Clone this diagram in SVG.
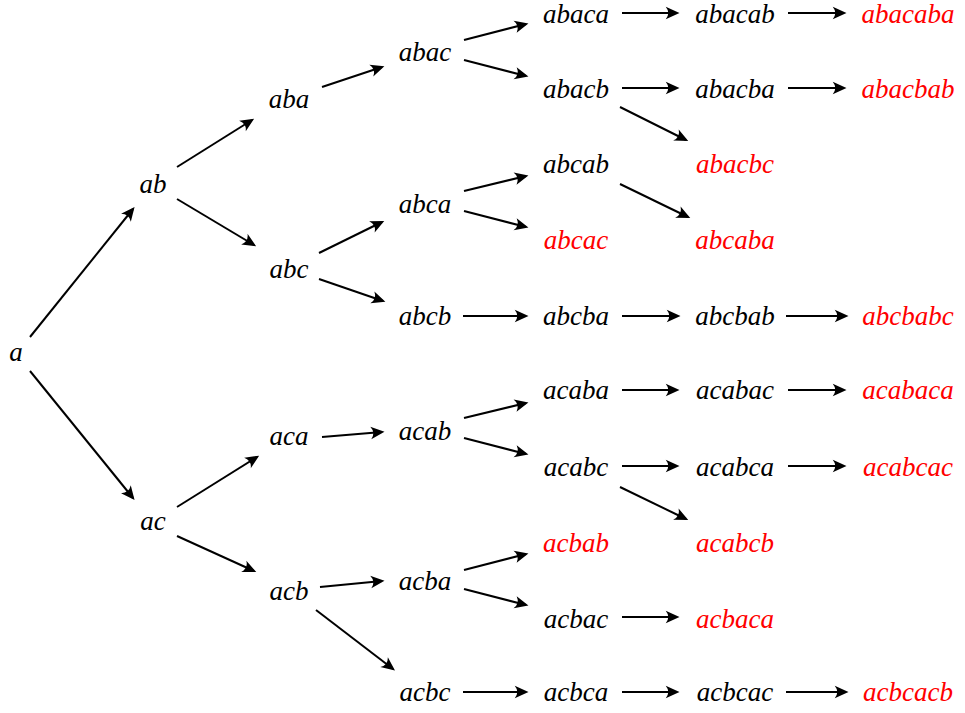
<svg xmlns="http://www.w3.org/2000/svg" width="965" height="713" viewBox="0 0 965 713">
<defs>
<marker id="ah" markerUnits="userSpaceOnUse" orient="auto" refX="0" refY="0" markerWidth="20" markerHeight="20" viewBox="-12 -8 16 16" overflow="visible">
<path d="M2,0 L-9,-5 Q-5,0 -9,5 Z" fill="#000"/>
</marker>
<style>
text{font-family:"Liberation Serif","Times New Roman",serif;font-style:italic;font-size:27px;text-anchor:middle;fill:#000}
text.r{fill:#ff0000}
#edges line{stroke:#000;stroke-width:2;marker-end:url(#ah)}
</style>
</defs>
<rect width="965" height="713" fill="#fff"/>
<g id="edges">
<line x1="30" y1="337" x2="133" y2="209"/>
<line x1="30" y1="371" x2="133" y2="498"/>
<line x1="177" y1="167" x2="252" y2="120"/>
<line x1="177" y1="199" x2="254" y2="245"/>
<line x1="177" y1="507" x2="257" y2="457"/>
<line x1="177" y1="536" x2="254" y2="571"/>
<line x1="322" y1="87" x2="382" y2="67"/>
<line x1="319" y1="253" x2="382" y2="222"/>
<line x1="319" y1="279" x2="383" y2="301"/>
<line x1="322" y1="437" x2="382" y2="432"/>
<line x1="320" y1="587" x2="382" y2="581"/>
<line x1="316" y1="610" x2="393" y2="669"/>
<line x1="464" y1="40" x2="526" y2="24"/>
<line x1="464" y1="60" x2="526" y2="76"/>
<line x1="464" y1="191" x2="526" y2="176"/>
<line x1="464" y1="211" x2="526" y2="227"/>
<line x1="463" y1="316" x2="526" y2="316"/>
<line x1="464" y1="418" x2="526" y2="403"/>
<line x1="464" y1="438" x2="526" y2="454"/>
<line x1="464" y1="570" x2="526" y2="554"/>
<line x1="464" y1="589" x2="526" y2="605"/>
<line x1="463" y1="692" x2="526" y2="692"/>
<line x1="622" y1="13" x2="677" y2="13"/>
<line x1="788" y1="13" x2="844" y2="13"/>
<line x1="622" y1="88" x2="677" y2="88"/>
<line x1="620" y1="107" x2="686" y2="140"/>
<line x1="788" y1="88" x2="844" y2="88"/>
<line x1="620" y1="184" x2="688" y2="217"/>
<line x1="622" y1="316" x2="678" y2="316"/>
<line x1="786" y1="316" x2="846" y2="316"/>
<line x1="622" y1="390" x2="677" y2="390"/>
<line x1="788" y1="390" x2="844" y2="390"/>
<line x1="622" y1="466" x2="677" y2="466"/>
<line x1="620" y1="487" x2="686" y2="519"/>
<line x1="788" y1="466" x2="844" y2="466"/>
<line x1="622" y1="617" x2="677" y2="617"/>
<line x1="622" y1="692" x2="677" y2="692"/>
<line x1="786" y1="692" x2="846" y2="692"/>
</g>
<g id="n-a"><text x="16" y="361">a</text></g>
<g id="n-ab"><text x="153" y="193">ab</text></g>
<g id="n-ac"><text x="153" y="530">ac</text></g>
<g id="n-aba"><text x="289" y="108">aba</text></g>
<g id="n-abc"><text x="289" y="278">abc</text></g>
<g id="n-aca"><text x="289" y="445">aca</text></g>
<g id="n-acb"><text x="289" y="600">acb</text></g>
<g id="n-abac"><text x="425" y="61">abac</text></g>
<g id="n-abca"><text x="425" y="213">abca</text></g>
<g id="n-abcb"><text x="425" y="325">abcb</text></g>
<g id="n-acab"><text x="425" y="440">acab</text></g>
<g id="n-acba"><text x="425" y="590">acba</text></g>
<g id="n-acbc"><text x="425" y="701">acbc</text></g>
<g id="n-abaca"><text x="576" y="23">abaca</text></g>
<g id="n-abacb"><text x="576" y="98">abacb</text></g>
<g id="n-abcab"><text x="576" y="173">abcab</text></g>
<g id="n-abcac"><text class="r" x="576" y="249">abcac</text></g>
<g id="n-abcba"><text x="576" y="325">abcba</text></g>
<g id="n-acaba"><text x="576" y="399">acaba</text></g>
<g id="n-acabc"><text x="576" y="476">acabc</text></g>
<g id="n-acbab"><text class="r" x="576" y="552">acbab</text></g>
<g id="n-acbac"><text x="576" y="628">acbac</text></g>
<g id="n-acbca"><text x="576" y="701">acbca</text></g>
<g id="n-abacab"><text x="735" y="23">abacab</text></g>
<g id="n-abacba"><text x="735" y="98">abacba</text></g>
<g id="n-abacbc"><text class="r" x="735" y="173">abacbc</text></g>
<g id="n-abcaba"><text class="r" x="735" y="249">abcaba</text></g>
<g id="n-abcbab"><text x="735" y="325">abcbab</text></g>
<g id="n-acabac"><text x="735" y="399">acabac</text></g>
<g id="n-acabca"><text x="735" y="476">acabca</text></g>
<g id="n-acabcb"><text class="r" x="735" y="552">acabcb</text></g>
<g id="n-acbaca"><text class="r" x="735" y="628">acbaca</text></g>
<g id="n-acbcac"><text x="735" y="701">acbcac</text></g>
<g id="n-abacaba"><text class="r" x="908" y="23">abacaba</text></g>
<g id="n-abacbab"><text class="r" x="908" y="98">abacbab</text></g>
<g id="n-abcbabc"><text class="r" x="908" y="325">abcbabc</text></g>
<g id="n-acabaca"><text class="r" x="908" y="399">acabaca</text></g>
<g id="n-acabcac"><text class="r" x="908" y="476">acabcac</text></g>
<g id="n-acbcacb"><text class="r" x="908" y="701">acbcacb</text></g>
</svg>
